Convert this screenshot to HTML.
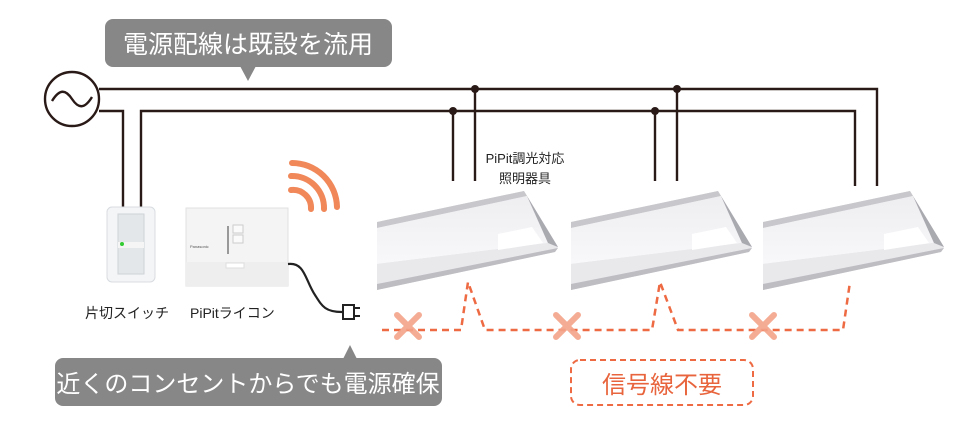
<!DOCTYPE html>
<html><head><meta charset="utf-8"><style>
body{margin:0;background:#fff;}
svg text{font-family:"Liberation Sans","Noto Sans CJK JP",sans-serif;}
</style></head><body>
<svg width="973" height="432" viewBox="0 0 973 432" xmlns="http://www.w3.org/2000/svg">
<defs>
<linearGradient id="lf" x1="0" y1="0" x2="0" y2="1"><stop offset="0" stop-color="#eeeef1"/><stop offset="1" stop-color="#f8f8fa"/></linearGradient>
</defs>
<rect x="105" y="19" width="287" height="48" rx="8" fill="#878787"/>
<polygon points="240,66 256,66 248,81" fill="#878787"/>
<text x="248" y="53" font-size="25" fill="#fff" text-anchor="middle">電源配線は既設を流用</text>
<g stroke="#2a1a17" stroke-width="2.4" fill="none">
<circle cx="72" cy="99" r="27" fill="#fff"/>
<path d="M52,101 C60,88 66,90 72,99 C78,108 84,110 92,97"/>
<path d="M99,89 H877 V186"/>
<path d="M99,111 H123 V207"/>
<path d="M141,207 V111 H855 V186"/>
<path d="M453,111 V181 M475,89 V181 M655,111 V181 M677,89 V181"/>
</g>
<g fill="#2a1a17"><circle cx="475" cy="89" r="4"/><circle cx="453" cy="111" r="4"/><circle cx="677" cy="89" r="4"/><circle cx="655" cy="111" r="4"/></g>
<text x="525" y="163" font-size="13" fill="#222" text-anchor="middle">PiPit調光対応</text>
<text x="525" y="183" font-size="13" fill="#222" text-anchor="middle">照明器具</text>
<g stroke="#f0885a" stroke-width="6" fill="none" stroke-linecap="round">
<path d="M291,190 A18,18 0 0 1 311,209"/>
<path d="M291,176 A32,32 0 0 1 324,209"/>
<path d="M292,163 A45,45 0 0 1 337,207"/>
</g>
<rect x="107" y="207" width="48" height="75" rx="5" fill="#f3f5f7" stroke="#d8dce0"/>
<rect x="118" y="214" width="26" height="60" fill="#e4e7ea" stroke="#cfd3d7"/>
<rect x="118" y="242" width="26" height="6" fill="#f5f5f5"/>
<circle cx="122" cy="244" r="2" fill="#3c3"/>
<rect x="186" y="208" width="102" height="78" fill="#f4f4f4" stroke="#e0e0e0"/>
<rect x="186" y="262" width="102" height="24" fill="#eeeeee"/>
<rect x="227" y="226" width="2" height="28" fill="#999"/>
<rect x="233" y="225" width="10" height="8" fill="#fafafa" stroke="#ccc"/>
<rect x="233" y="235" width="10" height="8" fill="#fafafa" stroke="#ccc"/>
<text x="190" y="248" font-size="4" fill="#555">Panasonic</text>
<rect x="226" y="263" width="18" height="5" fill="#fff" stroke="#ddd"/>
<path d="M288,264 C305,262 305,280 315,295 C322,306 325,312 342,312" stroke="#222" stroke-width="2.2" fill="none"/>
<rect x="343" y="305" width="11" height="14" fill="#fff" stroke="#222" stroke-width="2"/>
<path d="M354,308 H360 M354,316 H360" stroke="#222" stroke-width="2"/>
<text x="85" y="318" font-size="14" fill="#222">片切スイッチ</text>
<text x="190" y="318" font-size="14" fill="#222">PiPitライコン</text>
<g id="lamp">
<polygon points="377,222 524,191 558,247 555,252 377,290" fill="#e4e4e8"/>
<polygon points="377,222 524,191 527,196 377,228" fill="#c8c8cc"/>
<polygon points="377,228 527,196 548,243 377,264" fill="url(#lf)"/>
<polygon points="377,264 548,243 558,248 377,284" fill="#e9e9ec"/>
<polygon points="377,284 558,248 555,252 377,290" fill="#bdbdc2"/>
<polygon points="524,191 558,247 548,243 527,196" fill="#a9a9b0"/>
<polygon points="498,234 532,227 543,243 498,250" fill="#ffffff"/>
</g>
<use href="#lamp" x="194"/>
<use href="#lamp" x="386"/>
<path d="M382,330 H461 L468,282 L485,330 H652 L660,282 L678,330 H843 L850,282" stroke="#ee6a43" stroke-width="2.5" fill="none" stroke-dasharray="7,5"/>
<g stroke="#f4a48a" stroke-width="6" stroke-linecap="round" opacity="0.9">
<path d="M397,315 L419,337 M419,315 L397,337"/>
<path d="M556,315 L578,337 M578,315 L556,337"/>
<path d="M752,315 L774,337 M774,315 L752,337"/>
</g>
<rect x="55" y="358" width="387" height="48" rx="8" fill="#878787"/>
<polygon points="343,359 357,359 350,345" fill="#878787"/>
<text x="248" y="392" font-size="24" fill="#fff" text-anchor="middle">近くのコンセントからでも電源確保</text>
<rect x="571" y="360" width="182" height="45" rx="9" fill="none" stroke="#ee6a43" stroke-width="2" stroke-dasharray="6,4"/>
<text x="662" y="393" font-size="24" fill="#e8643c" text-anchor="middle">信号線不要</text>
</svg>
</body></html>
